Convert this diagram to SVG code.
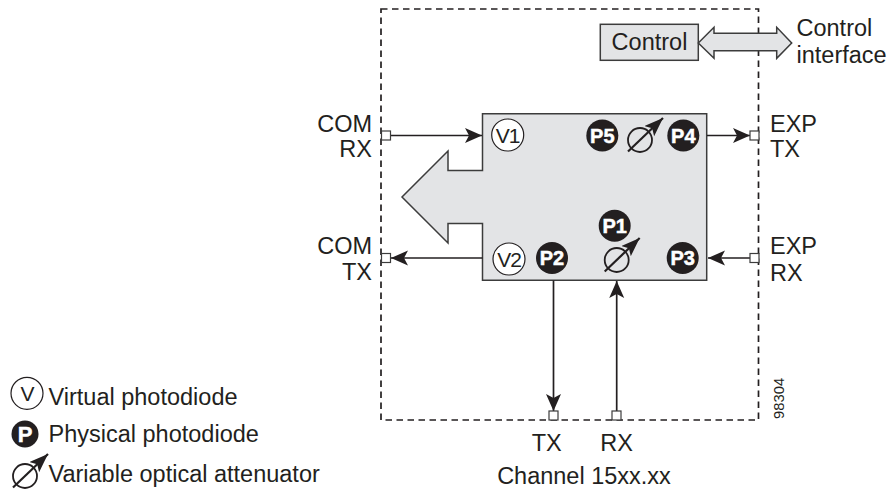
<svg xmlns="http://www.w3.org/2000/svg" width="889" height="491" viewBox="0 0 889 491">
<style>
text{font-family:"Liberation Sans",Arial,sans-serif;font-size:23.500px;fill:#231f20}
.pt{font-weight:bold;fill:#fff;stroke:#fff;stroke-width:.5px;font-size:20px;text-anchor:middle}
.vt{font-size:21px;text-anchor:middle;letter-spacing:-1px}
.m{text-anchor:middle}
.e{text-anchor:end}
.p{fill:#231f20}
.v{fill:#fff;stroke:#231f20;stroke-width:1.200}
.c{stroke:#231f20;stroke-width:1.700;fill:none}
.s{fill:#fff;stroke:#3c3c3c;stroke-width:1.200}
.g{fill:#e3e4e6;stroke:#3c3c3c;stroke-width:1.500}
</style>
<defs>
<marker id="ah" markerUnits="userSpaceOnUse" markerWidth="18" markerHeight="16" refX="17" refY="7.500" orient="auto"><path d="M0 0L17 7.500L0 15L4 7.500Z" fill="#231f20"/></marker>
<marker id="ahs" markerUnits="userSpaceOnUse" markerWidth="20" markerHeight="16" refX="19" refY="7" orient="auto"><path d="M0 0L19 7L0 14L4 7Z" fill="#231f20"/></marker>
<g id="att"><circle cx="0" cy="0" r="12" fill="none" stroke="#231f20" stroke-width="1.800"/><path d="M-12 11.500L23 -22" stroke="#231f20" stroke-width="2.200" fill="none" marker-end="url(#ahs)"/></g>
</defs>
<rect id="boundary" x="381" y="9" width="377.500" height="411" fill="none" stroke="#231f20" stroke-width="1.700" stroke-dasharray="6.500 4.500"/>
<g id="block"><path class="g" d="M482.500 113.700H706.700V280.300H482.500V223.500H448V243L402 197L448 151V170.500H482.500Z"/></g>
<g id="connectors">
<path class="c" d="M390 135.500H482" marker-end="url(#ah)"/>
<path class="c" d="M482.500 258H391" marker-end="url(#ah)"/>
<path class="c" d="M707 135.500H750" marker-end="url(#ah)"/>
<path class="c" d="M750 258H708" marker-end="url(#ah)"/>
<path class="c" d="M553.500 280.500V411" marker-end="url(#ah)"/>
<path class="c" d="M616.700 411V281" marker-end="url(#ah)"/>
</g>
<g id="ports">
<rect class="s" x="381.500" y="131" width="9" height="9"/>
<rect class="s" x="381.500" y="253.500" width="9" height="9"/>
<rect class="s" x="750" y="131" width="9" height="9"/>
<rect class="s" x="750" y="253.500" width="9" height="9"/>
<rect class="s" x="549" y="411" width="9" height="9"/>
<rect class="s" x="612" y="411" width="9" height="9"/>
</g>
<g id="control"><rect class="g" x="600.300" y="24.300" width="98" height="36"/><text class="m" x="649.500" y="50">Control</text></g>
<g id="control-arrow"><path class="g" d="M698.300 43L714 27.300V33.300H776.700V27.300L791.700 43L776.700 58.300V50.700H714V58.300Z"/></g>
<g id="V1"><circle class="v" cx="507.700" cy="135" r="16"/><text class="vt" x="507.700" y="142.700">V1</text></g>
<g id="V2"><circle class="v" cx="509" cy="259" r="16"/><text class="vt" x="509" y="266.700">V2</text></g>
<g id="P1"><circle class="p" cx="614.700" cy="225.700" r="16"/><text class="pt" x="614.700" y="232.700">P1</text></g>
<g id="P2"><circle class="p" cx="552" cy="258" r="16"/><text class="pt" x="552" y="265">P2</text></g>
<g id="P3"><circle class="p" cx="682.700" cy="258" r="16"/><text class="pt" x="682.700" y="265">P3</text></g>
<g id="P4"><circle class="p" cx="683.300" cy="135.500" r="16"/><text class="pt" x="683.300" y="142.500">P4</text></g>
<g id="P5"><circle class="p" cx="602.300" cy="135.500" r="16"/><text class="pt" x="602.300" y="142.500">P5</text></g>
<g id="VOA1"><use href="#att" x="640" y="140"/></g>
<g id="VOA2"><use href="#att" x="616.700" y="260"/></g>
<g id="labels">
<text x="796.500" y="36">Control</text>
<text x="796.500" y="62.500">interface</text>
<text class="e" x="372" y="131.700">COM</text>
<text class="e" x="372" y="157">RX</text>
<text class="e" x="372" y="253.500">COM</text>
<text class="e" x="372" y="280">TX</text>
<text x="770" y="131.700">EXP</text>
<text x="770" y="157.300">TX</text>
<text x="770" y="254">EXP</text>
<text x="770" y="281">RX</text>
<text class="m" x="546.700" y="450.700">TX</text>
<text class="m" x="616.700" y="450.700">RX</text>
<text class="m" x="584" y="484">Channel 15xx.xx</text>
<text transform="translate(783.500 419) rotate(-90)" style="font-size:14.800px">98304</text>
</g>
<g id="legend">
<circle class="v" cx="27" cy="393.300" r="16"/><text class="vt" x="27" y="400.700">V</text>
<text x="48.500" y="404.700">Virtual photodiode</text>
<circle class="p" cx="25" cy="434" r="13.500"/><text class="pt" x="25" y="442" style="font-size:22px">P</text>
<text x="48.500" y="442">Physical photodiode</text>
<use href="#att" x="25" y="476"/>
<text x="48.500" y="482.300">Variable optical attenuator</text>
</g>
</svg>
